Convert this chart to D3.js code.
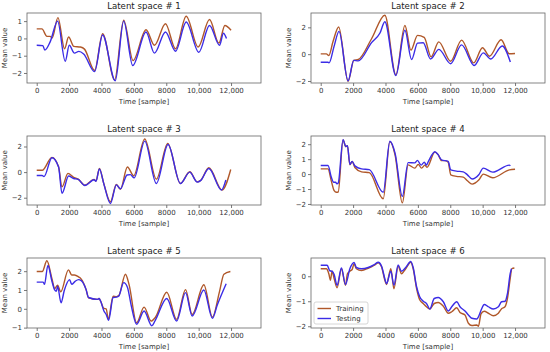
<!DOCTYPE html>
<html>
<head>
<meta charset="utf-8">
<script src="https://cdn.jsdelivr.net/npm/d3@7"></script>
<style>
  body { margin: 0; background: #fff; }
  text { font-family: "DejaVu Sans", sans-serif; }
</style>
</head>
<body>
<div id="chart"></div>
<script>
// series values: [time sample, mean value]
var p1Train = [[0,0.55],[320,0.55],[630,0.12],[830,0.12],[950,0.02],[1310,1.2],[1720,-0.6],[1970,0.08],[2290,-0.46],[2700,-0.5],[2950,-0.62],[3575,-1.86],[4070,0.27],[4810,-2.4],[5370,1.05],[5950,-1.28],[6750,0.5],[7270,-0.4],[7950,0.85],[8570,-0.6],[9230,1.28],[9970,-0.5],[10670,1.09],[11250,-0.27],[11620,0.75],[12000,0.47]];
var p1Test = [[0,-0.4],[380,-0.42],[500,-0.68],[830,-0.2],[1290,1.0],[1760,-1.32],[2010,-0.4],[2330,-0.85],[2600,-0.75],[2900,-0.9],[3575,-1.92],[4070,0.2],[4850,-2.45],[5370,1.0],[5930,-1.57],[6750,0.37],[7270,-0.85],[7950,0.37],[8570,-0.74],[9230,0.95],[10010,-0.8],[10670,0.75],[11290,-0.4],[11530,0.3],[11720,0.0]];

var p2Train = [[0,0.02],[350,0.02],[500,-0.1],[760,0.94],[1110,2.03],[1690,-2.03],[2040,-0.46],[2320,-0.4],[3140,1.15],[3960,2.9],[4640,-1.53],[5200,2.14],[5570,0.3],[5980,1.4],[6390,1.25],[6820,-0.2],[7290,0.92],[8020,-0.53],[8700,1.05],[9450,-0.65],[9990,0.48],[10420,-0.15],[11140,1.07],[11640,0.03],[12000,0.05]];
var p2Test = [[0,-0.6],[450,-0.6],[520,-0.65],[820,0.56],[1130,1.7],[1690,-1.98],[2040,-0.46],[2320,-0.5],[3140,0.86],[3660,1.58],[3960,2.42],[4640,-1.6],[5200,1.78],[5610,-0.4],[5980,0.82],[6330,0.85],[6780,-0.36],[7300,0.36],[8020,-0.71],[8700,0.69],[9480,-0.84],[10040,0.1],[10500,-0.36],[11210,0.61],[11710,-0.59]];

var p3Train = [[0,0.14],[340,0.14],[940,1.15],[1350,0.41],[1560,-1.15],[1930,-0.1],[2280,-0.41],[2560,-0.55],[2970,-1.02],[3540,-0.57],[3660,-0.7],[3870,0.29],[4140,-0.89],[4550,-2.32],[4920,-0.96],[5170,-1.35],[5600,0.4],[5990,-0.29],[6670,2.58],[7390,-0.55],[8090,2.24],[8870,-0.89],[9450,0.03],[9910,-0.76],[10120,-0.65],[10630,0.34],[11450,-1.4],[11980,0.2]];
var p3Test = [[0,-0.27],[330,-0.27],[450,-0.35],[940,1.12],[1350,0.4],[1560,-1.66],[1970,-0.31],[2280,-0.5],[2560,-0.57],[2970,-1.05],[3540,-0.6],[3660,-0.72],[3870,0.25],[4140,-0.9],[4550,-2.45],[4920,-1.0],[5170,-1.3],[5580,-0.23],[5780,-0.2],[6020,-0.45],[6670,2.42],[7390,-0.89],[8110,2.16],[8870,-0.89],[9450,0.0],[9910,-0.78],[10120,-0.67],[10630,0.28],[11410,-1.4],[11680,-0.62]];

var p4Train = [[0,0.35],[450,0.35],[660,-0.49],[830,-1.11],[970,-1.22],[1080,-1.2],[1380,2.29],[1550,1.84],[1650,1.9],[1800,0.62],[1940,0.85],[2110,0.44],[2520,0.15],[3000,0.1],[3860,-1.65],[4270,2.17],[4590,1.29],[5040,-1.93],[5400,0.62],[5810,0.4],[6020,0.65],[6230,0.4],[6430,0.6],[6560,0.45],[7050,1.47],[7250,1.3],[7460,0.9],[7660,0.9],[7870,0.8],[8030,-0.05],[8380,-0.15],[8800,-0.2],[9060,-0.45],[9350,-0.67],[9760,-0.4],[10040,0.0],[10620,-0.25],[11650,0.28],[12000,0.32]];
var p4Test = [[0,0.57],[450,0.57],[660,-0.23],[800,-0.55],[920,-0.55],[1000,-0.65],[1080,-0.6],[1380,2.3],[1550,1.85],[1650,1.9],[1800,0.65],[1940,0.85],[2110,0.55],[2520,0.35],[3000,0.3],[3860,-1.22],[4270,2.2],[4590,1.4],[5040,-1.49],[5400,0.77],[5810,0.75],[5970,0.92],[6200,0.6],[6400,0.8],[6520,0.6],[6650,0.85],[7050,1.5],[7250,1.3],[7460,0.95],[7870,0.85],[8030,0.28],[8380,0.2],[8800,0.15],[9060,-0.05],[9350,-0.33],[9760,-0.05],[10040,0.4],[10620,0.13],[11650,0.6],[11710,0.55]];

var p5Train = [[0,1.98],[340,1.98],[630,2.55],[940,1.6],[1110,1.08],[1290,1.25],[1480,0.9],[1960,2.07],[2160,1.8],[2330,1.8],[2580,1.7],[2750,1.58],[3050,1.02],[3200,0.58],[3750,0.5],[3850,0.55],[3950,0.4],[4150,0.02],[4290,0.0],[4420,-0.55],[4720,0.67],[4930,0.65],[5070,0.7],[5480,1.84],[5700,1.3],[6170,-0.74],[6630,0.09],[7060,-0.65],[7330,-0.45],[8030,0.88],[8640,-0.56],[9190,1.02],[9600,-0.3],[10320,1.28],[10850,-0.44],[11290,0.93],[11560,1.84],[11960,1.98]];
var p5Test = [[0,1.42],[400,1.42],[480,1.3],[690,2.3],[940,1.46],[1110,1.0],[1210,0.93],[1290,1.2],[1500,0.32],[1710,1.0],[2030,1.55],[2160,1.3],[2370,1.46],[2580,1.55],[2750,1.5],[3050,1.02],[3200,0.6],[3750,0.5],[3850,0.55],[3950,0.4],[4150,-0.12],[4290,-0.3],[4440,-0.61],[4720,0.6],[4930,0.62],[5070,0.68],[5370,1.39],[5600,1.15],[5830,0.2],[6170,-0.82],[6630,-0.12],[7110,-0.9],[7330,-0.6],[8030,0.55],[8640,-0.65],[9190,0.86],[9600,-0.38],[10320,1.0],[10850,-0.5],[11150,0.2],[11700,1.33]];

var p6Train = [[0,0.3],[350,0.3],[500,0.1],[600,-0.16],[700,0.2],[830,-0.1],[1010,-0.46],[1280,0.3],[1530,-0.36],[1650,0.1],[1800,0.2],[1940,0.27],[2060,0.5],[2200,0.3],[2520,0.23],[2930,0.32],[3340,0.45],[3550,0.54],[3760,0.37],[3960,-0.16],[4060,-0.33],[4270,0.2],[4330,0.3],[4520,-0.5],[4780,0.4],[4990,0.1],[5250,0.3],[5560,0.56],[5710,0.3],[5920,-0.49],[6120,-0.95],[6330,-1.09],[6530,-1.22],[6740,-1.31],[7010,-1.09],[7260,-1.05],[7570,-1.2],[7880,-1.48],[8090,-1.42],[8400,-1.26],[8600,-1.45],[8910,-1.55],[9120,-1.88],[9330,-1.97],[9640,-1.95],[9740,-2.0],[9900,-1.5],[10100,-1.4],[10350,-1.48],[10660,-1.58],[10970,-1.48],[11170,-1.3],[11380,-1.22],[11530,-0.89],[11700,-0.1],[11800,0.3],[11960,0.33]];
var p6Test = [[0,0.44],[400,0.44],[560,0.22],[700,0.2],[830,0.07],[1010,-0.36],[1280,0.33],[1530,-0.33],[1800,0.3],[2060,0.55],[2200,0.35],[2520,0.3],[2930,0.35],[3340,0.48],[3550,0.56],[3760,0.4],[3960,-0.1],[4060,-0.3],[4330,0.2],[4520,-0.36],[4780,0.45],[4990,0.2],[5250,0.35],[5560,0.59],[5710,0.35],[5920,-0.42],[6120,-0.83],[6330,-1.0],[6530,-1.09],[6740,-1.31],[7010,-0.89],[7260,-0.85],[7570,-1.02],[7880,-1.39],[8090,-1.22],[8400,-1.02],[8600,-1.22],[8910,-1.39],[9120,-1.55],[9330,-1.68],[9640,-1.71],[9740,-1.62],[9900,-1.36],[10100,-1.13],[10350,-1.22],[10660,-1.31],[10970,-1.22],[11170,-1.02],[11380,-1.0],[11530,-0.7],[11700,0.1],[11780,0.3]];

// axis limits and ticks
var xLimits = [-600, 13850];
var xTicks = [0, 2000, 4000, 6000, 8000, 10000, 12000];
var xTickLabels = ["0", "2000", "4000", "6000", "8000", "10,000", "12,000"];
var yLimits = [[-2.58, 1.47], [-2.15, 3.07], [-2.57, 2.82], [-2.07, 2.55], [-1.02, 2.7], [-2.07, 0.73]];
var yTicks = [[-2, -1, 0, 1], [-2, 0, 2], [-2, 0, 2], [-2, -1, 0, 1, 2], [-1, 0, 1, 2], [-2, -1, 0]];
var titles = ["Latent space # 1", "Latent space # 2", "Latent space # 3", "Latent space # 4", "Latent space # 5", "Latent space # 6"];
var seriesNames = ["Training", "Testing"];
var trainSets = [p1Train, p2Train, p3Train, p4Train, p5Train, p6Train];
var testSets = [p1Test, p2Test, p3Test, p4Test, p5Test, p6Test];

var colors = {Training: "#b0582a", Testing: "#3b2ce6"};

// layout of the 3x2 grid
var W = 550, H = 352;
var colX = [[27, 261], [311, 545]];
var rowY = [[13, 83], [136, 205], [258, 328]];
var fs = "7px";

var svg = d3.select("#chart")
  .append("svg")
    .attr("width", W)
    .attr("height", H);

titles.forEach(function(title, i) {
  var col = i % 2, row = Math.floor(i / 2);
  var x = d3.scaleLinear().domain(xLimits).range(colX[col]);
  var y = d3.scaleLinear().domain(yLimits[i]).range([rowY[row][1], rowY[row][0]]);
  var g = svg.append("g");

  // x axis
  g.append("g")
    .attr("transform", "translate(0," + rowY[row][1] + ")")
    .call(d3.axisBottom(x).tickValues(xTicks).tickFormat(function(d, k) { return xTickLabels[k]; }).tickSize(3).tickPadding(2))
    .call(function(a) { a.select(".domain").remove(); })
    .call(function(a) {
      a.selectAll("line").attr("stroke", "#555").attr("stroke-width", 0.8);
      a.selectAll("text").attr("fill", "#333").style("font-size", fs).style("font-family", "DejaVu Sans");
    });

  // y axis
  g.append("g")
    .attr("transform", "translate(" + colX[col][0] + ",0)")
    .call(d3.axisLeft(y).tickValues(yTicks[i]).tickFormat(function(d) { return d < 0 ? "\u2212" + Math.abs(d) : d; }).tickSize(3).tickPadding(2))
    .call(function(a) { a.select(".domain").remove(); })
    .call(function(a) {
      a.selectAll("line").attr("stroke", "#555").attr("stroke-width", 0.8);
      a.selectAll("text").attr("fill", "#333").style("font-size", fs).style("font-family", "DejaVu Sans");
    });

  // lines, clipped to the axes box
  var clipId = "clip" + i;
  svg.append("clipPath").attr("id", clipId)
    .append("rect")
      .attr("x", colX[col][0]).attr("y", rowY[row][0])
      .attr("width", colX[col][1] - colX[col][0])
      .attr("height", rowY[row][1] - rowY[row][0]);

  var line = d3.line()
    .x(function(d) { return x(d[0]); })
    .y(function(d) { return y(d[1]); })
    .curve(d3.curveMonotoneX);

  [trainSets[i], testSets[i]].forEach(function(data, s) {
    g.append("path")
      .datum(data)
      .attr("clip-path", "url(#" + clipId + ")")
      .attr("fill", "none")
      .attr("stroke", colors[seriesNames[s]])
      .attr("stroke-width", 1.4)
      .attr("stroke-linejoin", "round")
      .attr("d", line);
  });

  // frame
  g.append("rect")
    .attr("x", colX[col][0]).attr("y", rowY[row][0])
    .attr("width", colX[col][1] - colX[col][0])
    .attr("height", rowY[row][1] - rowY[row][0])
    .attr("fill", "none")
    .attr("stroke", "#666")
    .attr("stroke-width", 0.8);

  // title
  g.append("text")
    .attr("x", (colX[col][0] + colX[col][1]) / 2)
    .attr("y", rowY[row][0] - 4)
    .attr("text-anchor", "middle")
    .attr("fill", "#222")
    .style("font-size", "8.6px")
    .text(title);

  // x label
  g.append("text")
    .attr("x", (colX[col][0] + colX[col][1]) / 2)
    .attr("y", rowY[row][1] + 20.5)
    .attr("text-anchor", "middle")
    .attr("fill", "#333")
    .style("font-size", fs)
    .text("Time [sample]");

  // y label
  g.append("text")
    .attr("transform", "translate(" + (colX[col][0] - 20) + "," + ((rowY[row][0] + rowY[row][1]) / 2) + ") rotate(-90)")
    .attr("text-anchor", "middle")
    .attr("fill", "#333")
    .style("font-size", fs)
    .text("Mean value");

  // legend in last panel
  if (i === 5) {
    var lx = colX[col][0] + 3, ly = rowY[row][1] - 26;
    var legend = g.append("g").attr("transform", "translate(" + lx + "," + ly + ")");
    legend.append("rect")
      .attr("width", 54).attr("height", 22)
      .attr("rx", 2)
      .attr("fill", "#fff").attr("fill-opacity", 0.8)
      .attr("stroke", "#ccc").attr("stroke-width", 0.8);
    seriesNames.forEach(function(name, k) {
      var yy = 6.5 + k * 10;
      legend.append("line")
        .attr("x1", 3.5).attr("x2", 17)
        .attr("y1", yy).attr("y2", yy)
        .attr("stroke", colors[name]).attr("stroke-width", 1.4);
      legend.append("text")
        .attr("x", 22).attr("y", yy + 2.4)
        .attr("fill", "#333")
        .style("font-size", fs)
        .text(name);
    });
  }
});
</script>
</body>
</html>
